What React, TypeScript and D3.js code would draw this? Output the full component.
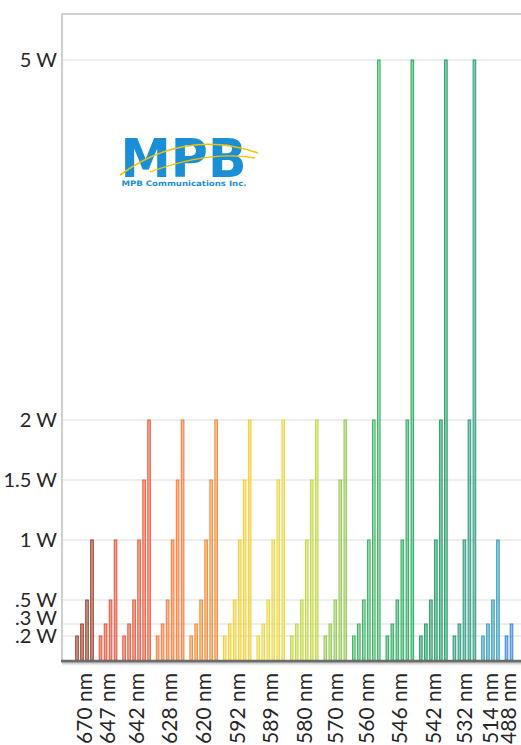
import React from "react";
import * as d3 from "d3";

const wavelengths = ["670 nm", "647 nm", "642 nm", "628 nm", "620 nm", "592 nm", "589 nm", "580 nm", "570 nm", "560 nm", "546 nm", "542 nm", "532 nm", "514 nm", "488 nm"];
const powers670 = [0.2, 0.3, 0.5, 1];
const powers647 = [0.2, 0.3, 0.5, 1];
const powers642 = [0.2, 0.3, 0.5, 1, 1.5, 2];
const powers628 = [0.2, 0.3, 0.5, 1, 1.5, 2];
const powers620 = [0.2, 0.3, 0.5, 1, 1.5, 2];
const powers592 = [0.2, 0.3, 0.5, 1, 1.5, 2];
const powers589 = [0.2, 0.3, 0.5, 1, 1.5, 2];
const powers580 = [0.2, 0.3, 0.5, 1, 1.5, 2];
const powers570 = [0.2, 0.3, 0.5, 1.5, 2];
const powers560 = [0.2, 0.3, 0.5, 1, 2, 5];
const powers546 = [0.2, 0.3, 0.5, 1, 2, 5];
const powers542 = [0.2, 0.3, 0.5, 1, 2, 5];
const powers532 = [0.2, 0.3, 1, 2, 5];
const powers514 = [0.2, 0.3, 0.5, 1];
const powers488 = [0.2, 0.3];
const groupPowers = [powers670, powers647, powers642, powers628, powers620, powers592, powers589, powers580, powers570, powers560, powers546, powers542, powers532, powers514, powers488];
const groupColors = ["#9e412c", "#e2533b", "#ef5a3d", "#f47b3a", "#f58c38", "#f0cf34", "#ecd845", "#c3d746", "#96ca56", "#3fb865", "#2eab62", "#23a166", "#2c9a7d", "#3aa0bd", "#3a88d4"];
const tickValues = [5, 2, 1.5, 1, 0.5, 0.3, 0.2];
const tickLabels = ["5 W", "2 W", "1.5 W", "1 W", ".5 W", ".3 W", ".2 W"];

const W = 521;
const H = 745;
const axisX = 62;
const topY = 14;
const baseY = 660;
const gapSlots = 0.71;

export default function App() {
  const y = d3.scaleLinear().domain([0, 5]).range([baseY, 60]);

  const bars: { slot: number; v: number; color: string; g: number }[] = [];
  const centers: number[] = [];
  let count = 0;
  groupPowers.forEach((vals, g) => {
    const start = count + g * gapSlots;
    vals.forEach((v, i) => {
      bars.push({ slot: start + i, v, color: groupColors[g], g });
    });
    centers.push(start + (vals.length - 1) / 2);
    count += vals.length;
  });
  const lastSlot = bars[bars.length - 1].slot;
  const x = d3.scaleLinear().domain([0, lastSlot]).range([77, 511.5]);

  const font = "Lato, 'Open Sans', sans-serif";

  return (
    <div style={{ position: "fixed", left: 0, top: 0, width: W, height: H, background: "#fff" }}>
      <svg width={W} height={H} viewBox={`0 0 ${W} ${H}`}>
        <defs>
          <linearGradient id="shadow" x1="0" y1="0" x2="0" y2="1">
            <stop offset="0" stopColor="#9a9a9a" stopOpacity="0.9" />
            <stop offset="1" stopColor="#ffffff" stopOpacity="0" />
          </linearGradient>
        </defs>
        <rect x={0} y={0} width={W} height={H} fill="#fff" />
        <line x1={axisX} x2={W} y1={topY} y2={topY} stroke="#cfcfcf" strokeWidth={2} />
        <line x1={axisX} x2={axisX} y1={topY - 1} y2={baseY + 2} stroke="#cfcfcf" strokeWidth={2} />
        {tickValues.map((t) => (
          <line key={t} x1={axisX + 1} x2={W} y1={y(t)} y2={y(t)} stroke="#e9e9e9" strokeWidth={1.5} />
        ))}
        {tickValues.map((t, i) => (
          <text
            key={"l" + t}
            x={57}
            y={y(t) + (t === 0.3 ? -6 : 0)}
            dy="0.35em"
            textAnchor="end"
            fontFamily={font}
            fontSize={20}
            fill="#262626"
          >
            {tickLabels[i]}
          </text>
        ))}
        {bars.map((b, i) => (
          <rect
            key={i}
            x={x(b.slot) - 1.3}
            y={y(b.v)}
            width={2.6}
            height={baseY - y(b.v)}
            fill={b.color}
            fillOpacity={0.55}
            stroke={b.color}
            strokeWidth={1}
          />
        ))}
        <rect x={axisX} y={baseY + 2} width={W - axisX} height={5} fill="url(#shadow)" />
        <line x1={axisX - 1} x2={W} y1={baseY + 1} y2={baseY + 1} stroke="#6b6b6b" strokeWidth={2.5} />
        {wavelengths.map((w, g) => (
          <text
            key={w}
            transform={`translate(${x(centers[g])},673) rotate(-90)`}
            dy="0.35em"
            textAnchor="end"
            fontFamily={font}
            fontSize={21}
            fill="#262626"
          >
            {w}
          </text>
        ))}
        <g>
          <text
            x={120.5}
            y={177}
            fontFamily="'DejaVu Sans', sans-serif"
            fontWeight="bold"
            fontSize={53}
            textLength={126}
            lengthAdjust="spacingAndGlyphs"
            fill="#1b8fd6"
          >
            MPB
          </text>
          <path d="M120,175 Q185,128 258,153" fill="none" stroke="#f2c200" strokeWidth={1.6} />
          <path d="M150,172 Q210,150 255,158" fill="none" stroke="#f2c200" strokeWidth={1.3} />
          <text
            x={121.5}
            y={186}
            fontFamily="'DejaVu Sans', sans-serif"
            fontWeight="bold"
            fontSize={7.5}
            textLength={125}
            lengthAdjust="spacingAndGlyphs"
            fill="#1b8fd6"
          >
            MPB Communications Inc.
          </text>
        </g>
      </svg>
    </div>
  );
}
